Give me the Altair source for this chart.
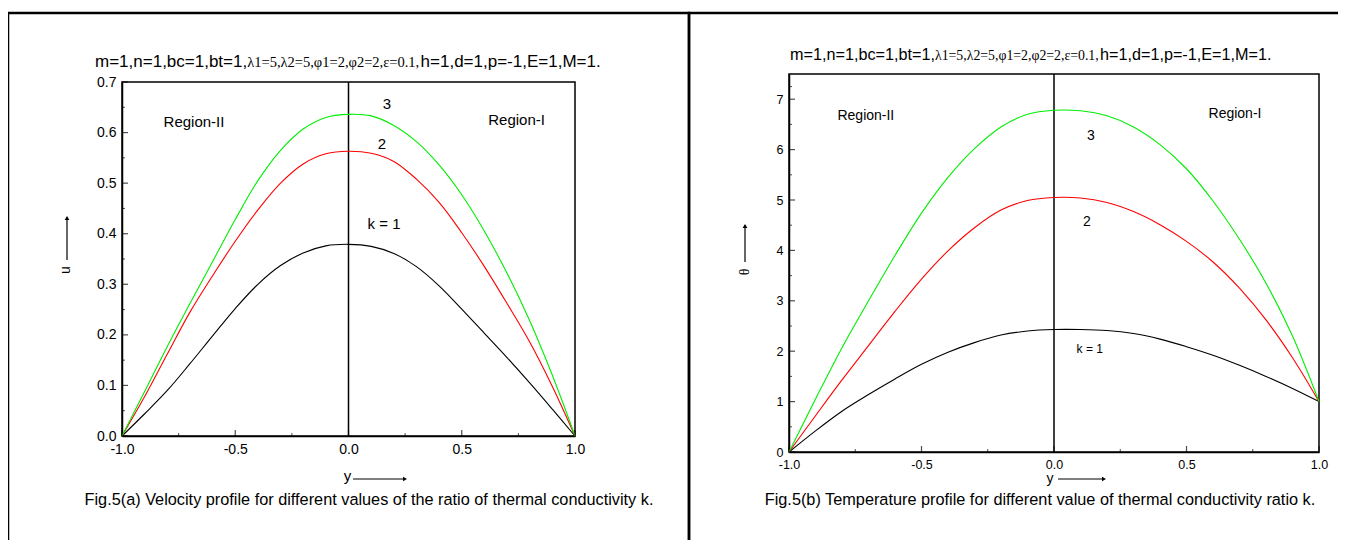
import altair as alt
import pandas as pd

FONT = "Arial, 'Liberation Sans', sans-serif"
SERIF = "'Times New Roman', 'Liberation Serif', serif"

# ---------------- data ----------------
y_pos = [-1.0, -0.9, -0.8, -0.7, -0.6, -0.5, -0.4, -0.3, -0.2, -0.1, 0.0,
         0.1, 0.2, 0.3, 0.4, 0.5, 0.6, 0.7, 0.8, 0.9, 1.0]
k_labels = ["1", "2", "3"]
k_colors = ["#000000", "#ff0000", "#00ee00"]

# Fig.5(a) velocity u
u_k1 = [0.0, 0.044, 0.090, 0.143, 0.198, 0.252, 0.300, 0.337, 0.362, 0.376, 0.379,
        0.375, 0.361, 0.335, 0.297, 0.251, 0.203, 0.155, 0.105, 0.053, 0.0]
u_k2 = [0.0, 0.078, 0.162, 0.245, 0.317, 0.385, 0.447, 0.500, 0.538, 0.558, 0.563,
        0.559, 0.543, 0.508, 0.462, 0.402, 0.335, 0.262, 0.186, 0.098, 0.0]
u_k3 = [0.0, 0.088, 0.177, 0.262, 0.345, 0.428, 0.505, 0.565, 0.607, 0.630, 0.636,
        0.633, 0.614, 0.582, 0.536, 0.477, 0.405, 0.322, 0.228, 0.120, 0.0]

# Fig.5(b) temperature theta
th_k1 = [0.0, 0.42, 0.81, 1.14, 1.45, 1.74, 1.98, 2.17, 2.32, 2.40, 2.43,
         2.43, 2.41, 2.35, 2.24, 2.09, 1.92, 1.72, 1.50, 1.26, 1.0]
th_k2 = [0.0, 0.72, 1.43, 2.11, 2.79, 3.43, 3.99, 4.45, 4.80, 4.99, 5.05,
         5.04, 4.95, 4.77, 4.51, 4.18, 3.77, 3.25, 2.62, 1.87, 1.0]
th_k3 = [0.0, 1.05, 2.07, 3.00, 3.90, 4.74, 5.45, 6.02, 6.45, 6.70, 6.78,
         6.77, 6.67, 6.45, 6.10, 5.62, 4.98, 4.22, 3.35, 2.30, 1.0]

x_major = [-1.0, -0.5, 0.0, 0.5, 1.0]
x_minor = [-0.75, -0.25, 0.25, 0.75]
u_major = [0.0, 0.1, 0.2, 0.3, 0.4, 0.5, 0.6, 0.7]
u_minor = [0.05, 0.15, 0.25, 0.35, 0.45, 0.55, 0.65]
th_major = [0, 1, 2, 3, 4, 5, 6, 7]
th_minor = [0.5, 1.5, 2.5, 3.5, 4.5, 5.5, 6.5, 7.25]

left_labels = pd.DataFrame({
    "t": ["Region-II", "Region-I", "3", "2", "k = 1"],
    "x": [-0.682, 0.742, 0.170, 0.148, 0.157],
    "y": [0.621, 0.625, 0.657, 0.577, 0.419],
})
right_labels_big = pd.DataFrame({
    "t": ["Region-II", "Region-I", "3", "2"],
    "x": [-0.710, 0.683, 0.139, 0.124],
    "y": [6.67, 6.71, 6.27, 4.56],
})
right_labels_small = pd.DataFrame({"t": ["k = 1"], "x": [0.135], "y": [2.04]})

title_p1 = "m=1,n=1,bc=1,bt=1,"
title_p2 = "λ1=5,λ2=5,φ1=2,φ2=2,ε=0.1,"
title_p3 = "h=1,d=1,p=-1,E=1,M=1."
cap_a = "Fig.5(a) Velocity profile for different values of the ratio of thermal conductivity k."
cap_b = "Fig.5(b) Temperature profile for different value of thermal conductivity ratio k."

W, H = 1330, 532
one = pd.DataFrame({"a": [0]})


def long_df(series):
    rows = []
    for k, vals in zip(k_labels, series):
        for p, v in zip(y_pos, vals):
            rows.append({"pos": p, "val": v, "k": k})
    return pd.DataFrame(rows)


def panel(series, y_dom, x_rng, y_rng, y_major, y_minor, y_fmt, lab_fs, texts):
    xs = alt.Scale(domain=[-1, 1], range=x_rng, nice=False, zero=False)
    ys = alt.Scale(domain=y_dom, range=y_rng, nice=False, zero=False)
    xax = alt.Axis(orient="bottom", offset=y_rng[0] - H, values=x_major,
                   labelExpr="datum.value < 0 ? '-' + format(-datum.value, '.1f') : format(datum.value, '.1f')",
                   ticks=False, tickSize=0, domain=True, domainColor="black", domainWidth=1.5,
                   grid=False, title=None, labelFont=FONT, labelFontSize=lab_fs,
                   labelColor="black", labelPadding=6, labelFlush=False, labelOverlap=False)
    yax = alt.Axis(orient="left", offset=-x_rng[0], values=y_major, format=y_fmt,
                   ticks=False, tickSize=0, domain=True, domainColor="black", domainWidth=1.5,
                   grid=False, title=None, labelFont=FONT, labelFontSize=lab_fs,
                   labelColor="black", labelPadding=6, labelFlush=False, labelOverlap=False)

    def X(f):
        return alt.X(f, scale=xs, axis=xax)

    def Y(f):
        return alt.Y(f, scale=ys, axis=yax)

    def XD(v):
        return alt.XDatum(v, type="quantitative", scale=xs, axis=xax)

    def YD(v):
        return alt.YDatum(v, type="quantitative", scale=ys, axis=yax)

    lines = alt.Chart(long_df(series)).mark_line(strokeWidth=1.1, interpolate="catmull-rom").encode(
        x=X("pos:Q"), y=Y("val:Q"),
        color=alt.Color("k:N", scale=alt.Scale(domain=k_labels, range=k_colors), legend=None),
    )
    box = alt.Chart(one).mark_rect(fillOpacity=0, stroke="black", strokeWidth=1.5).encode(
        x=XD(-1), x2=alt.X2Datum(1), y=YD(y_dom[0]), y2=alt.Y2Datum(y_dom[1]))
    center = alt.Chart(one).mark_rule(color="black", strokeWidth=1.5).encode(
        x=XD(0), y=YD(y_dom[0]), y2=alt.Y2Datum(y_dom[1]))
    xt_major = alt.Chart(pd.DataFrame({"t": x_major})).mark_tick(
        orient="vertical", size=6, thickness=1.2, yOffset=-3, color="black").encode(
        x=X("t:Q"), y=YD(y_dom[0]))
    xt_minor = alt.Chart(pd.DataFrame({"t": x_minor})).mark_tick(
        orient="vertical", size=3, thickness=1, yOffset=-1.5, color="black").encode(
        x=X("t:Q"), y=YD(y_dom[0]))
    yt_major = alt.Chart(pd.DataFrame({"t": y_major})).mark_tick(
        orient="horizontal", size=6, thickness=1.2, xOffset=3, color="black").encode(
        y=Y("t:Q"), x=XD(-1))
    yt_minor = alt.Chart(pd.DataFrame({"t": y_minor})).mark_tick(
        orient="horizontal", size=3, thickness=1, xOffset=1.5, color="black").encode(
        y=Y("t:Q"), x=XD(-1))
    layers = [box, center, lines, xt_major, xt_minor, yt_major, yt_minor]
    for df, fs in texts:
        layers.append(alt.Chart(df).mark_text(font=FONT, fontSize=fs, color="black").encode(
            x=X("x:Q"), y=Y("y:Q"), text="t:N"))
    return alt.layer(*layers)


left = panel([u_k1, u_k2, u_k3], [0, 0.7], [114, 567], [428, 74], u_major, u_minor,
             ".1f", 14, [(left_labels, 15)])
right = panel([th_k1, th_k2, th_k3], [0, 7.5], [781, 1311], [444, 66], th_major, th_minor,
              "d", 12.5, [(right_labels_big, 14), (right_labels_small, 12)])


def txt(s, x, y, fs, font=FONT, align="left", baseline="alphabetic", angle=0):
    kw = dict(text=s, font=font, fontSize=fs, color="black", align=align, baseline=baseline)
    if angle:
        kw["angle"] = angle
    return alt.Chart(one).mark_text(**kw).encode(x=alt.value(x), y=alt.value(y))


def rule(x1, y1, x2, y2, w=1.2):
    return alt.Chart(one).mark_rule(color="black", strokeWidth=w).encode(
        x=alt.value(x1), y=alt.value(y1), x2=alt.value(x2), y2=alt.value(y2))


def head(x, y, shape):
    return alt.Chart(one).mark_point(shape=shape, filled=True, size=22, color="black", opacity=1).encode(
        x=alt.value(x), y=alt.value(y))


frames = [
    alt.Chart(one).mark_rect(fillOpacity=0, stroke="black", strokeWidth=2.5).encode(
        x=alt.value(0), x2=alt.value(681), y=alt.value(5), y2=alt.value(700)),
    alt.Chart(one).mark_rect(fillOpacity=0, stroke="black", strokeWidth=2.5).encode(
        x=alt.value(681), x2=alt.value(1400), y=alt.value(5), y2=alt.value(700)),
]

deco = frames + [
    # titles
    txt(title_p1, 239.2, 59, 17, align="right"),
    txt(title_p2, 239.2, 59, 14.5, font=SERIF),
    txt(title_p3, 412.6, 59, 17),
    txt(title_p1, 927, 52, 16.2, align="right"),
    txt(title_p2, 927, 52, 13.8, font=SERIF),
    txt(title_p3, 1092, 52, 16.2),
    # captions
    txt(cap_a, 361, 492, 16.3, align="center", baseline="middle"),
    txt(cap_b, 1032, 492, 16.3, align="center", baseline="middle"),
    # axis titles with arrows
    txt("u", 58, 262, 14, align="center", baseline="middle", angle=270),
    rule(59, 209, 59, 252),
    head(59, 210, "triangle-up"),
    txt("θ", 737, 264, 14, font=SERIF, align="center", baseline="middle", angle=270),
    rule(737, 217, 737, 254),
    head(737, 218, "triangle-up"),
    txt("y", 339.5, 468, 15, align="center", baseline="middle"),
    rule(345, 471, 397, 471),
    head(397, 471, "triangle-right"),
    txt("y", 1042, 471, 14, align="center", baseline="middle"),
    rule(1050, 471, 1096, 471),
    head(1096, 471, "triangle-right"),
]

chart = alt.layer(left, right, *deco).resolve_scale(
    x="independent", y="independent", color="independent"
).properties(
    width=W, height=H, padding=0, autosize=alt.AutoSizeParams(type="none"),
    background="white",
).configure_view(stroke=None)

chart.save("out.html", embed_options={"renderer": "svg", "actions": False})
